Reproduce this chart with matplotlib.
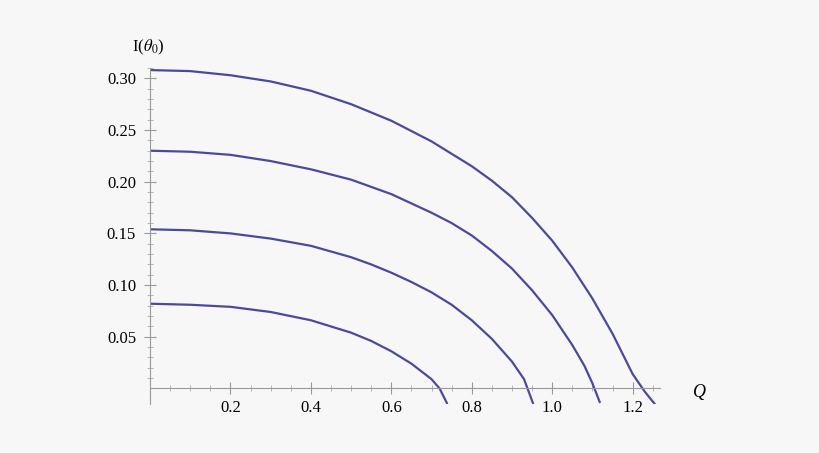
import matplotlib
matplotlib.use("Agg")
import matplotlib.pyplot as plt
import numpy as np

q1 = [0, 0.1, 0.2, 0.3, 0.4, 0.5, 0.6, 0.7, 0.8, 0.85, 0.9, 0.95, 1.0, 1.05, 1.1, 1.15, 1.2, 1.23, 1.255]
i1 = [0.308, 0.307, 0.303, 0.297, 0.288, 0.275, 0.259, 0.239, 0.215, 0.201, 0.185, 0.165, 0.143, 0.117, 0.087, 0.053, 0.014, -0.003, -0.015]
q2 = [0, 0.1, 0.2, 0.3, 0.4, 0.5, 0.6, 0.7, 0.75, 0.8, 0.85, 0.9, 0.95, 1.0, 1.05, 1.08, 1.1, 1.118]
i2 = [0.230, 0.229, 0.226, 0.220, 0.212, 0.202, 0.188, 0.170, 0.160, 0.148, 0.133, 0.116, 0.095, 0.071, 0.042, 0.022, 0.005, -0.013]
q3 = [0, 0.1, 0.2, 0.3, 0.4, 0.5, 0.55, 0.6, 0.65, 0.7, 0.75, 0.8, 0.85, 0.9, 0.93, 0.952]
i3 = [0.154, 0.153, 0.150, 0.145, 0.138, 0.127, 0.120, 0.112, 0.103, 0.093, 0.081, 0.066, 0.048, 0.026, 0.009, -0.014]
q4 = [0, 0.1, 0.2, 0.3, 0.35, 0.4, 0.45, 0.5, 0.55, 0.6, 0.65, 0.7, 0.72, 0.738]
i4 = [0.082, 0.081, 0.079, 0.074, 0.070, 0.066, 0.060, 0.054, 0.046, 0.036, 0.024, 0.009, 0.000, -0.014]
xticks = [0.2, 0.4, 0.6, 0.8, 1.0, 1.2]
yticks = [0.05, 0.10, 0.15, 0.20, 0.25, 0.30]

plt.rcParams['font.family'] = ['Liberation Serif', 'DejaVu Serif']
plt.rcParams['mathtext.fontset'] = 'stix'
fig = plt.figure(figsize=(8.2, 4.53), dpi=100, facecolor='#f7f7f7')
ax = fig.add_axes([150/820, (453-404)/453, (660-150)/820, (404-68)/453])
ax.set_facecolor('#f7f7f7')
col = '#4a4a9c'
for q, i in [(q1, i1), (q2, i2), (q3, i3), (q4, i4)]:
    ax.plot(q, i, color=col, lw=1.6, solid_joinstyle='round')
ax.set_xlim(0, 1.268)
y0 = -0.015
ax.set_ylim(y0, y0 + 0.05 * (404 - 68) / 52)
for s in ['top', 'right']:
    ax.spines[s].set_visible(False)
ax.spines['bottom'].set_position(('data', 0))
ax.spines['left'].set_position(('data', 0))
for s in ['bottom', 'left']:
    ax.spines[s].set_color('#999999')
ax.set_xticks(xticks)
ax.set_xticklabels(['0.2', '0.4', '0.6', '0.8', '1.0', '1.2'])
ax.set_yticks(yticks)
ax.set_yticklabels(['0.05', '0.10', '0.15', '0.20', '0.25', '0.30'])
ax.set_xticks(np.arange(0.05, 1.27, 0.05), minor=True)
ax.set_yticks(np.arange(0.01, 0.32, 0.01), minor=True)
ax.tick_params(axis='x', direction='inout', length=8, color='#999999', labelsize=12, pad=4)
ax.tick_params(axis='y', direction='inout', length=8, color='#999999', labelsize=12, pad=6)
ax.tick_params(which='minor', direction='inout', length=4, color='#aaaaaa')
fig.text(132/820, 1 - 47/453, r'I($\theta_0$)', fontsize=12, va='center')
fig.text(693/820, 1 - 393/453, 'Q', fontsize=13, style='italic', va='center')
fig.savefig('out.png', dpi=100, facecolor=fig.get_facecolor())
